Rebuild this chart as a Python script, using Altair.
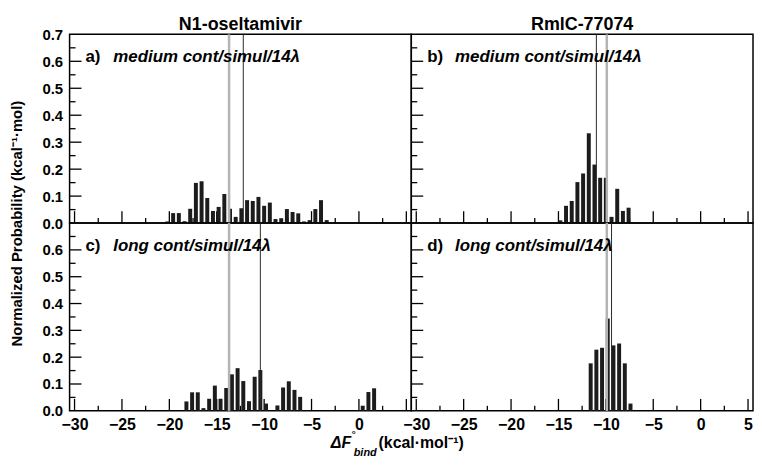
import altair as alt
import pandas as pd

FONT = "Liberation Sans"

# ---- data ----
# a) N1-oseltamivir, medium cont/simul/14 lambda
a_x = [-20.2, -19.6, -19.0, -18.4, -17.8, -17.2, -16.6, -16.0, -15.4, -14.8,
       -14.2, -13.6, -13.0, -12.4, -11.8, -11.2, -10.6, -10.0, -9.4, -8.8,
       -8.2, -7.6, -7.0, -6.4, -5.8, -5.2, -4.6, -4.0, -3.4]
a_p = [0.006, 0.037, 0.037, 0.007, 0.053, 0.149, 0.155, 0.093, 0.045, 0.060,
       0.108, 0.053, 0.023, 0.055, 0.085, 0.082, 0.097, 0.064, 0.076, 0.015,
       0.018, 0.052, 0.041, 0.036, 0.006, 0.011, 0.052, 0.085, 0.011]
# b) RmlC-77074, medium
b_x = [-14.8, -14.2, -13.6, -13.0, -12.4, -11.8, -11.2, -10.6, -10.0, -9.4,
       -8.8, -8.2, -7.6, -7.0]
b_p = [0.010, 0.064, 0.082, 0.152, 0.184, 0.333, 0.217, 0.168, 0.168, 0.023,
       0.127, 0.045, 0.057, 0.003]
# c) N1-oseltamivir, long
c_x = [-18.2, -17.6, -17.0, -16.4, -15.8, -15.2, -14.6, -14.0, -13.4, -12.8,
       -12.2, -11.6, -11.0, -10.4, -9.8, -8.6, -8.0, -7.4, -6.8, -6.2,
       0.4, 1.0, 1.6]
c_p = [0.035, 0.069, 0.069, 0.010, 0.045, 0.094, 0.045, 0.085, 0.136, 0.159,
       0.111, 0.036, 0.127, 0.152, 0.027, 0.020, 0.087, 0.110, 0.078, 0.052,
       0.019, 0.070, 0.084]
# d) RmlC-77074, long
d_x = [-11.6, -11.0, -10.4, -9.8, -9.2, -8.6, -8.0, -7.4]
d_p = [0.177, 0.228, 0.235, 0.344, 0.244, 0.251, 0.177, 0.027]

# reference lines (gray = reference value, black = estimate)
gray_lines = {"a": -13.7, "b": -9.9, "c": -13.7, "d": -9.9}
black_lines = {"a": -12.2, "b": -11.0, "c": -10.4, "d": -9.4}

col_titles = ["N1-oseltamivir", "RmlC-77074"]
panel_letters = {"a": "a)", "b": "b)", "c": "c)", "d": "d)"}
panel_texts = {"a": "medium cont/simul/14λ", "b": "medium cont/simul/14λ",
               "c": "long cont/simul/14λ", "d": "long cont/simul/14λ"}

x_major = [-30, -25, -20, -15, -10, -5, 0, 5]
x_minor = [-27.5, -22.5, -17.5, -12.5, -7.5, -2.5, 2.5]
y_major = [0.1, 0.2, 0.3, 0.4, 0.5, 0.6]
y_minor = [0.05, 0.15, 0.25, 0.35, 0.45, 0.55, 0.65]
y_labels_top = [0.0, 0.1, 0.2, 0.3, 0.4, 0.5, 0.6, 0.7]
y_labels_bottom = [0.0, 0.1, 0.2, 0.3, 0.4, 0.5, 0.6]
x_labels_left = [-30, -25, -20, -15, -10, -5, 0]
x_labels_right = [-30, -25, -20, -15, -10, -5, 0, 5]

y_title = "Normalized Probability (kcal⁻¹·mol)"

W = 344
XS = alt.Scale(domain=[-30, 5], nice=False, zero=False)
YS = alt.Scale(domain=[0, 0.7], nice=False, zero=True)


def panel(key, xs, ps, height, y_vals=None, x_vals=None, title=None,
          y_axis_title=False, x_axis_title=False):
    if x_vals is not None:
        xaxis = alt.Axis(values=x_vals, format="d", ticks=False, tickSize=0,
                         domain=False, grid=False, labelFont=FONT,
                         labelFontSize=16, labelFontWeight="bold",
                         labelColor="black", labelPadding=6, title=None,
                         labelOverlap=False)
    else:
        xaxis = None
    if y_vals is not None:
        kw = dict(values=y_vals, format=".1f", ticks=False, tickSize=0,
                  domain=False, grid=False, labelFont=FONT, labelFontSize=15,
                  labelFontWeight="bold", labelColor="black", labelPadding=7,
                  labelOverlap=False)
        if y_axis_title:
            kw.update(title=y_title, titleX=-53, titleY=height, titleAngle=270,
                      titleAlign="center", titleBaseline="middle",
                      titleFont=FONT, titleFontSize=15, titleFontWeight="bold",
                      titleColor="black")
        else:
            kw.update(title=None)
        yaxis = alt.Axis(**kw)
    else:
        yaxis = None

    df = pd.DataFrame({"x": xs, "p": ps})
    bars = alt.Chart(df).mark_bar(size=4, color="#1c1c1c").encode(
        x=alt.X("x:Q", scale=XS, axis=xaxis),
        y=alt.Y("p:Q", scale=YS, axis=yaxis),
    )
    gray = alt.Chart(pd.DataFrame({"x": [gray_lines[key]]})).mark_rule(
        color="#b4b4b4", strokeWidth=2.5).encode(x=alt.X("x:Q", scale=XS, axis=xaxis))
    black = alt.Chart(pd.DataFrame({"x": [black_lines[key]]})).mark_rule(
        color="#2a2a2a", strokeWidth=1).encode(x=alt.X("x:Q", scale=XS, axis=xaxis))

    xt_major = alt.Chart(pd.DataFrame({"x": x_major})).mark_rule(
        color="black", strokeWidth=1.3).encode(
        x=alt.X("x:Q", scale=XS, axis=xaxis),
        y=alt.value(height), y2=alt.value(height - 12))
    xt_minor = alt.Chart(pd.DataFrame({"x": x_minor})).mark_rule(
        color="black", strokeWidth=1.3).encode(
        x=alt.X("x:Q", scale=XS, axis=xaxis),
        y=alt.value(height), y2=alt.value(height - 5))
    yt_major = alt.Chart(pd.DataFrame({"p": y_major})).mark_rule(
        color="black", strokeWidth=1.3).encode(
        y=alt.Y("p:Q", scale=YS, axis=yaxis),
        x=alt.value(0), x2=alt.value(12))
    yt_minor = alt.Chart(pd.DataFrame({"p": y_minor})).mark_rule(
        color="black", strokeWidth=1.3).encode(
        y=alt.Y("p:Q", scale=YS, axis=yaxis),
        x=alt.value(0), x2=alt.value(6))

    letter = alt.Chart(pd.DataFrame({"s": [panel_letters[key]]})).mark_text(
        font=FONT, fontSize=17, fontWeight="bold", align="left",
        baseline="alphabetic", color="black").encode(
        text="s:N", x=alt.value(16), y=alt.value(28))
    label = alt.Chart(pd.DataFrame({"s": [panel_texts[key]]})).mark_text(
        font=FONT, fontSize=17, fontWeight="bold", fontStyle="italic",
        align="left", baseline="alphabetic", color="black").encode(
        text="s:N", x=alt.value(44), y=alt.value(28))

    layers = [xt_minor, xt_major, yt_minor, yt_major, bars, gray, black,
              letter, label]

    if title is not None:
        layers.append(alt.Chart(pd.DataFrame({"s": [title]})).mark_text(
            font=FONT, fontSize=18, fontWeight="bold", align="center",
            baseline="alphabetic", color="black").encode(
            text="s:N", x=alt.value(W / 2), y=alt.value(-4)))

    if x_axis_title:
        yb = height + 37
        parts = [
            ("ΔF", 263, yb, 16, "italic"),
            ("°", 284, yb - 11, 10, "normal"),
            ("bind", 286, yb + 8, 11, "italic"),
            ("(kcal·mol⁻¹)", 311, yb, 16, "normal"),
        ]
        for txt, px, py, fs, st in parts:
            layers.append(alt.Chart(pd.DataFrame({"s": [txt]})).mark_text(
                font=FONT, fontSize=fs, fontWeight="bold", fontStyle=st,
                align="left", baseline="alphabetic", color="black").encode(
                text="s:N", x=alt.value(px), y=alt.value(py)))

    return alt.layer(*layers).properties(width=W, height=height)


pa = panel("a", a_x, a_p, 190, y_vals=y_labels_top, title=col_titles[0],
           y_axis_title=True)
pb = panel("b", b_x, b_p, 190, title=col_titles[1])
pc = panel("c", c_x, c_p, 189, y_vals=y_labels_bottom, x_vals=x_labels_left,
           x_axis_title=True)
pdd = panel("d", d_x, d_p, 189, x_vals=x_labels_right)

chart = alt.concat(pa, pb, pc, pdd, columns=2, spacing=0).properties(
    bounds="flush",
    padding={"left": 1, "top": 6, "right": 0, "bottom": 0},
    background="white",
).configure_view(stroke="black", strokeWidth=1.5)

chart.save("out.html", embed_options={"renderer": "svg", "actions": False})
